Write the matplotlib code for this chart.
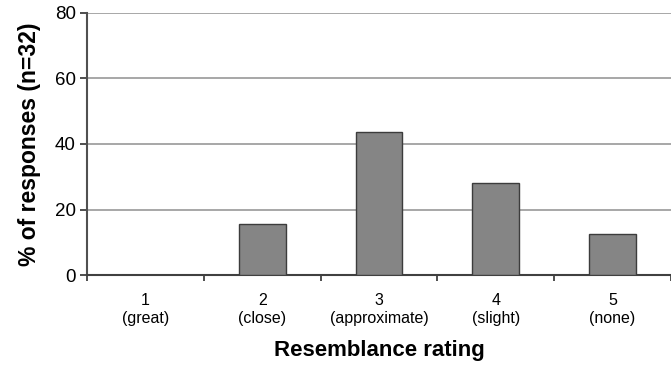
import matplotlib.pyplot as plt
import numpy as np

plt.rcParams['font.family'] = ['Liberation Sans', 'DejaVu Sans']

ratings = ["1\n(great)", "2\n(close)", "3\n(approximate)", "4\n(slight)", "5\n(none)"]
pct = [0, 15.6, 43.8, 28.1, 12.5]

fig = plt.figure(figsize=(6.71, 3.68), dpi=100)
ax = fig.add_axes([0.1297, 0.2527, 0.8703, 0.712])

x = np.arange(len(ratings))
ax.bar(x, pct, width=0.4, color="#858585", edgecolor="#3c3c3c", linewidth=1.0, zorder=3)

ax.set_xlim(-0.5, len(ratings) - 0.5)
ax.set_ylim(0, 80)
ax.set_yticks([0, 20, 40, 60, 80])
ax.yaxis.grid(True, color="#a0a0a0", linewidth=1.3, zorder=0)
ax.set_axisbelow(True)

ax.set_xticks(x)
ax.set_xticklabels(ratings, fontsize=11.5, linespacing=1.25)
ax.set_xticks(np.arange(-0.5, len(ratings) + 0.5, 1), minor=True)
ax.tick_params(axis="x", which="major", length=0, pad=13)
ax.tick_params(axis="x", which="minor", length=4, width=1.3, color="#404040")
ax.tick_params(axis="y", length=5, width=1.3, color="#404040", labelsize=13.5, pad=3)

for s in ["top", "right"]:
    ax.spines[s].set_visible(False)
ax.spines["left"].set_color("#505050")
ax.spines["left"].set_linewidth(1.5)
ax.spines["bottom"].set_color("#404040")
ax.spines["bottom"].set_linewidth(1.5)

ax.set_ylabel("% of responses (n=32)", fontsize=16.5, fontweight="bold", labelpad=10)
ax.set_xlabel("Resemblance rating", fontsize=16, fontweight="bold", labelpad=10)

fig.savefig("out.png", dpi=100)
